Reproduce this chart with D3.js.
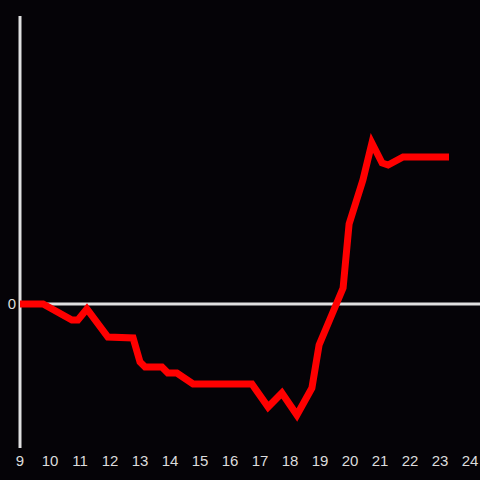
<!DOCTYPE html>
<html>
<head>
<meta charset="utf-8">
<script src="https://cdn.jsdelivr.net/npm/d3@7"></script>
<style>
  html, body { margin: 0; padding: 0; background: #050307; }
  svg { display: block; }
</style>
</head>
<body>
<div id="chart"></div>
<script>
const hours = [9.0, 9.77, 10.73, 10.93, 11.23, 11.93, 12.77, 13.0, 13.17, 13.73, 13.93, 14.23, 14.77,
  16.73, 17.27, 17.73, 18.23, 18.73, 18.97, 19.77, 19.97, 20.43, 20.73, 21.07, 21.27, 21.77, 23.3];
const values = [0, 0, -16, -16, -5, -33, -34, -58, -63, -63, -69, -69, -80,
  -80, -103, -89, -111, -84, -41, 16, 80, 124, 161, 141, 139, 147, 147];
const xTicks = d3.range(9, 25);
const yTicks = [0];

const w = 480;
const h = 480;

const svg = d3.select('#chart')
  .append('svg')
  .attr('width', w)
  .attr('height', h);

svg.append('rect')
  .attr('width', w)
  .attr('height', h)
  .attr('fill', '#050307');

const x = d3.scaleLinear().domain([9, 24]).range([20, 470]);
const y = d3.scaleLinear().domain([-144, 288]).range([448, 16]);

// left axis line
svg.append('line')
  .attr('x1', x(9)).attr('x2', x(9))
  .attr('y1', y(-144)).attr('y2', y(288))
  .attr('stroke', '#e0e0e0')
  .attr('stroke-width', 3);

// zero line
svg.append('line')
  .attr('x1', x(9)).attr('x2', w)
  .attr('y1', y(0)).attr('y2', y(0))
  .attr('stroke', '#e0e0e0')
  .attr('stroke-width', 3);

svg.append('g')
  .selectAll('text')
  .data(xTicks)
  .enter()
  .append('text')
  .attr('x', (d) => x(d))
  .attr('y', 466)
  .attr('text-anchor', 'middle')
  .attr('fill', '#dcdcdc')
  .attr('font-family', 'Liberation Sans, Arial, sans-serif')
  .attr('font-size', 15)
  .text((d) => d);

svg.append('g')
  .selectAll('text')
  .data(yTicks)
  .enter()
  .append('text')
  .attr('x', 16)
  .attr('y', (d) => y(d) + 5)
  .attr('text-anchor', 'end')
  .attr('fill', '#dcdcdc')
  .attr('font-family', 'Liberation Sans, Arial, sans-serif')
  .attr('font-size', 15)
  .text((d) => d);

const line = d3.line()
  .x((d, i) => x(hours[i]))
  .y((d) => y(d));

svg.append('path')
  .datum(values)
  .attr('d', line)
  .attr('fill', 'none')
  .attr('stroke', '#ff0000')
  .attr('stroke-width', 7)
  .attr('stroke-linejoin', 'miter');
</script>
</body>
</html>
